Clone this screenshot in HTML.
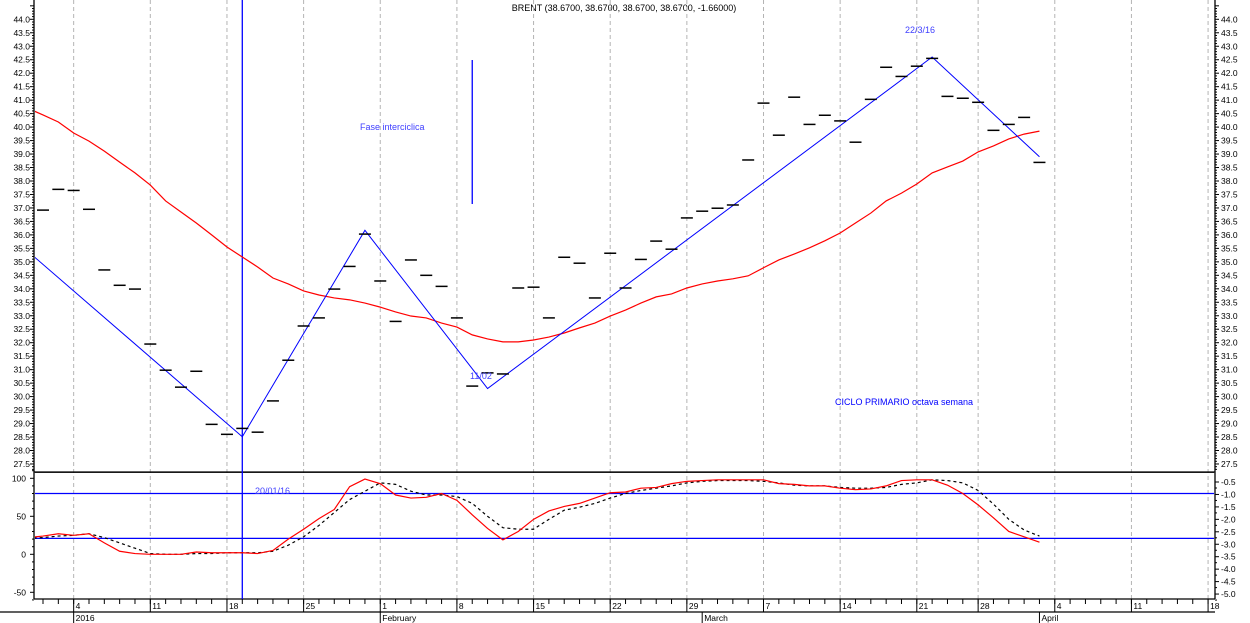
<!DOCTYPE html>
<html><head><meta charset="utf-8"><style>
html,body{margin:0;padding:0;background:#fff;}
svg{display:block;font-family:"Liberation Sans",sans-serif;}
</style></head><body>
<svg id="chart" width="1250" height="623" viewBox="0 0 1250 623" xmlns="http://www.w3.org/2000/svg">
<defs><clipPath id="plotclip"><rect x="35" y="0" width="1179" height="599"/></clipPath></defs>
<text x="624" y="11" font-size="9" text-anchor="middle" fill="#000">BRENT (38.6700, 38.6700, 38.6700, 38.6700, -1.66000)</text>
<g id="grid"></g><g id="axes"></g><g id="series" clip-path="url(#plotclip)"></g>
<text x="360" y="130" font-size="9" fill="#4040ff">Fase interciclica</text>
<text x="255" y="494" font-size="9" fill="#4040ff">20/01/16</text>
<text x="470" y="379" font-size="9" fill="#4040ff">11/02</text>
<text x="905" y="33" font-size="9" fill="#4040ff">22/3/16</text>
<text x="835" y="405" font-size="9" fill="#0000ff">CICLO PRIMARIO octava semana</text>
</svg>
<script>
const closes=[36.92,37.69,37.65,36.95,34.70,34.13,33.99,31.95,30.98,30.35,30.94,28.97,28.60,28.82,28.68,29.84,31.35,32.62,32.92,33.99,34.83,36.03,34.29,32.79,35.07,34.50,34.09,32.92,30.39,30.88,30.84,34.03,34.06,32.92,35.17,34.95,33.66,35.32,34.03,35.09,35.77,35.47,36.63,36.88,36.99,37.11,38.78,40.89,39.70,41.11,40.10,40.44,40.23,39.44,41.03,42.22,41.88,42.26,42.55,41.14,41.07,40.92,39.88,40.10,40.36,38.69];
// indicator series start one bar before the first close (index -1)
const movingAvg=[40.70,40.45,40.19,39.78,39.48,39.11,38.70,38.30,37.85,37.26,36.85,36.44,36.00,35.55,35.18,34.81,34.40,34.18,33.92,33.77,33.66,33.59,33.47,33.32,33.14,32.99,32.92,32.73,32.58,32.29,32.14,32.03,32.03,32.10,32.21,32.36,32.55,32.73,32.99,33.21,33.47,33.70,33.81,34.03,34.18,34.29,34.37,34.48,34.78,35.07,35.29,35.52,35.78,36.07,36.44,36.81,37.26,37.55,37.89,38.30,38.52,38.74,39.08,39.30,39.56,39.74,39.85];
const oscRed=[22,24,27,25,27,15,4,1,0,0,0,3,2,2,2,1,5,20,33,47,59,89,99,93,78,74,75,80,71,52,34,19,30,46,57,63,67,74,81,82,87,88,93,96,97,98,98,98,98,93,92,90,90,87,85,86,90,97,98,98,91,80,65,48,30,23,16];
const oscSignal=[21,22,24,25,27,22,15,8,1,0,0,1,1,2,2,2,4,12,23,38,55,72,83,94,92,83,78,78,76,67,50,35,33,33,46,58,62,67,74,80,84,87,90,94,96,97,97,97,96,94,91,90,90,88,87,87,88,92,94,98,97,94,84,66,46,32,24];
const indStart=-1;
const trendIdx=[-0.6,13,21,29,58,65];
const trendPrice=[35.2,28.51,36.17,30.3,42.6,38.9];
const priceTicks=["44.0","43.5","43.0","42.5","42.0","41.5","41.0","40.5","40.0","39.5","39.0","38.5","38.0","37.5","37.0","36.5","36.0","35.5","35.0","34.5","34.0","33.5","33.0","32.5","32.0","31.5","31.0","30.5","30.0","29.5","29.0","28.5","28.0","27.5"];
const oscTicks=[100,50,0,-50];
const oscRightTicks=["-0.5","-1.0","-1.5","-2.0","-2.5","-3.0","-3.5","-4.0","-4.5","-5.0"];
const weekIdx=[2,7,12,17,22,27,32,37,42,47,52,57,61,66,71,76];
const weekLabels=["4","11","18","25","1","8","15","22","29","7","14","21","28","4","11","18"];
const monthIdx=[2,22,43,65];
const monthLabels=["2016","February","March","April"];
const oscLevels=[108,80,21];

const NS="http://www.w3.org/2000/svg";
const X=i=>43+i*15.33;
const Y=p=>19.3+(44-p)*26.95;
const OY=v=>554.3-v*0.76;
function mk(parent,tag,attrs){const e=document.createElementNS(NS,tag);for(const k in attrs)e.setAttribute(k,attrs[k]);document.getElementById(parent).appendChild(e);return e;}
const L=34,R=1215;

weekIdx.forEach((w,k)=>{
  const g=mk('grid','line',{x1:X(w),x2:X(w),y1:0,y2:599,stroke:'#b4b4b4','stroke-dasharray':'4,3'});
  
  
});
[[L,0,L,599],[R,0,R,599],[L,599,R,599],[0,612,R,612],[L,472,R,472]].forEach(a=>{
  const e=mk('axes','line',{x1:a[0],y1:a[1],x2:a[2],y2:a[3],stroke:'#000','stroke-width':1.3});
  
  
});
for(let t=27.3;t<=44.55;t+=0.1){
  const y=Y(t);const major=Math.abs(t*2-Math.round(t*2))<0.01;
  mk('axes','line',{x1:L-(major?4:2),x2:L,y1:y,y2:y,stroke:'#000'});
  mk('axes','line',{x1:R,x2:R+(major?4:2),y1:y,y2:y,stroke:'#000'});
}
priceTicks.forEach(s=>{
  const y=Y(parseFloat(s));
  const a=mk('axes','text',{x:L-4,y:y+3,'font-size':8.5,'text-anchor':'end'});a.textContent=s;
  
  
  const b=mk('axes','text',{x:R+6,y:y+3,'font-size':8.5});b.textContent=s;
  
  
});
oscTicks.forEach(v=>{
  const a=mk('axes','text',{x:L-8,y:OY(v)+3,'font-size':8.5,'text-anchor':'end'});a.textContent=v;
  
  
});
for(let v=-60;v<=110;v+=10){mk('axes','line',{x1:L-(v%50==0?4:2),x2:L,y1:OY(v),y2:OY(v),stroke:'#000'});}
oscRightTicks.forEach((s,k)=>{
  const y=482+k*12.45;
  mk('axes','line',{x1:R,x2:R+4,y1:y,y2:y,stroke:'#000'});
  mk('axes','line',{x1:R,x2:R+2,y1:y+6,y2:y+6,stroke:'#000'});
  const b=mk('axes','text',{x:R+6,y:y+3,'font-size':8.5});b.textContent=s;
  
  
});
for(let i=0;i<=76;i+=1){const x=X(i);if(x>R)break;mk('axes','line',{x1:x,x2:x,y1:599,y2:604,stroke:'#000'});}
weekIdx.forEach((w,k)=>{
  const x=X(w);mk('axes','line',{x1:x,x2:x,y1:599,y2:612,stroke:'#000'});
  const t=mk('axes','text',{x:x+2,y:609,'font-size':8.5});t.textContent=weekLabels[k];
  
  
});
monthIdx.forEach((m,k)=>{
  const x=X(m);mk('axes','line',{x1:x,x2:x,y1:612,y2:623,stroke:'#000'});
  const t=mk('axes','text',{x:x+2,y:621,'font-size':8.5});t.textContent=monthLabels[k];
  
  
});
oscLevels.forEach((v,k)=>{
  const e=mk('series','line',{x1:L,x2:R,y1:OY(v),y2:OY(v),stroke:k==0?'#000':'#0000ff','stroke-width':1.3});
  
  
});
let v1=mk('series','line',{x1:X(13),x2:X(13),y1:0,y2:599,stroke:'#0000ff','stroke-width':1.3});


let v2=mk('series','line',{x1:X(28),x2:X(28),y1:60,y2:204,stroke:'#0000ff','stroke-width':1.3});


let ma=mk('series','polyline',{points:movingAvg.map((p,i)=>X(i+indStart)+','+Y(p)).join(' '),fill:'none',stroke:'#ff0000','stroke-width':1.2});


let tr=mk('series','polyline',{points:trendIdx.map((t,k)=>X(t)+','+Y(trendPrice[k])).join(' '),fill:'none',stroke:'#0000ff','stroke-width':1});


closes.forEach((p,i)=>{
  const e=mk('series','line',{x1:X(i)-6,x2:X(i)+6,y1:Y(p),y2:Y(p),stroke:'#000','stroke-width':1.5});
  
  
});
let os=mk('series','polyline',{points:oscSignal.map((v,i)=>X(i+indStart)+','+OY(v)).join(' '),fill:'none',stroke:'#000','stroke-width':1.2,'stroke-dasharray':'3,3'});


let orl=mk('series','polyline',{points:oscRed.map((v,i)=>X(i+indStart)+','+OY(v)).join(' '),fill:'none',stroke:'#ff0000','stroke-width':1.2});


</script>
</body></html>
